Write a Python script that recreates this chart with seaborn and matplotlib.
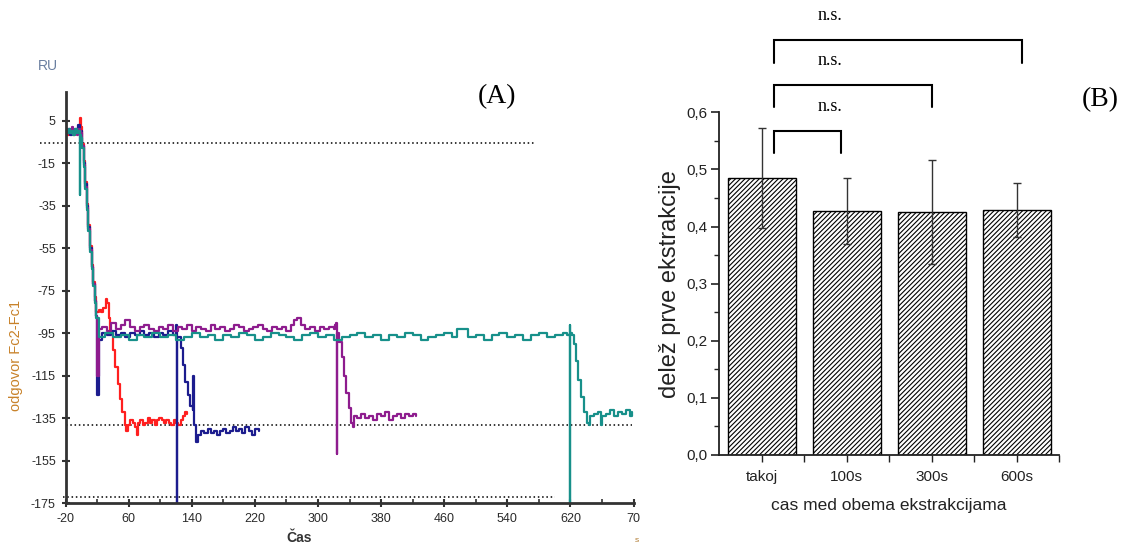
import numpy as np
import pandas as pd
import matplotlib
matplotlib.use("Agg")
import matplotlib.pyplot as plt
from matplotlib import font_manager
from matplotlib.ticker import FuncFormatter, FixedLocator
import seaborn as sns

# ---------------- Panel A data (sensorgram traces) ----------------
red_t = [-20, -18, -16, -14, -12, -10, -8, -6, -4, -2,
         -1, 0, 1, 3, 5, 7, 9, 11, 13, 15,
         17, 19, 22, 25, 28, 31, 33, 35, 37, 40,
         43, 46, 49, 52, 55, 57, 59, 62, 65, 68,
         70, 72, 75, 78, 81, 84, 87, 90, 93, 96,
         99, 102, 105, 108, 111, 114, 117, 120, 123, 126,
         129, 132, 134]
red_y = [0, -2, 0, -1, 1, -2, 0, -1, 1, -1,
         6, 2, -6, -14, -24, -34, -44, -54, -63, -71,
         -78, -85, -84, -85, -83, -79, -81, -88, -95, -103,
         -111, -119, -126, -132, -138, -141, -138, -136, -137, -139,
         -143, -137, -136, -138, -137, -135, -137, -136, -138, -136,
         -135, -136, -137, -136, -137, -138, -136, -137, -138, -136,
         -134, -132, -133]

navy_t = [-20, -18, -16, -14, -12, -10, -8, -6, -4, -2,
          0, 1, 3, 5, 7, 9, 11, 13, 15, 17,
          19, 20.5, 22, 26, 32, 38, 44, 50, 56, 62,
          68, 74, 80, 86, 92, 98, 104, 110, 116, 120,
          120.5, 121, 121.5, 123, 126, 129, 132, 135, 138, 141,
          142, 143, 145, 148, 152, 156, 160, 164, 168, 172,
          176, 180, 184, 188, 192, 196, 200, 204, 208, 212,
          216, 220, 225]
navy_y = [0, -1, 1, -2, 0, -1, 1, -1, 3, -1,
          0, -7, -15, -25, -35, -45, -55, -64, -72, -80,
          -87, -124, -98, -95, -96, -94, -96, -95, -97, -95,
          -96, -94, -96, -95, -97, -95, -96, -94, -96, -95,
          -91, -175, -97, -97, -102, -110, -118, -124, -129, -131,
          -115, -138, -146, -143, -141, -142, -140, -142, -141, -143,
          -141, -140, -142, -141, -139, -141, -140, -142, -139, -141,
          -143, -140, -141]

purple_t = [-20, -18, -16, -14, -12, -10, -8, -6, -4, -2,
            0, 1, 3, 5, 7, 9, 11, 13, 15, 17,
            19, 20.5, 22, 26, 32, 38, 44, 50, 56, 62,
            68, 74, 80, 86, 92, 98, 104, 110, 116, 122,
            128, 134, 140, 146, 152, 158, 164, 170, 176, 182,
            188, 194, 200, 206, 212, 218, 224, 230, 236, 242,
            248, 254, 260, 266, 270, 274, 278, 284, 290, 296,
            302, 308, 314, 320, 322, 323, 323.5, 324, 327, 330,
            333, 336, 339, 342, 344, 346, 350, 355, 360, 365,
            370, 375, 380, 385, 390, 395, 400, 405, 410, 415,
            420, 424]
purple_y = [-1, 1, -1, 0, 2, -1, 0, -2, 1, 0,
            -1, -7, -16, -26, -36, -46, -56, -64, -72, -80,
            -87, -115, -93, -92, -94, -90, -93, -91, -89, -92,
            -94, -92, -91, -93, -94, -92, -93, -91, -94, -92,
            -93, -91, -94, -92, -93, -94, -91, -93, -92, -94,
            -93, -91, -92, -94, -93, -92, -91, -93, -94, -92,
            -93, -92, -94, -91, -89, -88, -91, -93, -92, -94,
            -92, -93, -92, -93, -91, -90, -152, -95, -99, -106,
            -115, -123, -130, -137, -139, -134, -135, -133, -135, -134,
            -136, -133, -134, -132, -136, -134, -133, -135, -133, -134,
            -133, -134]

teal_t = [-20, -18, -16, -14, -12, -10, -8, -6, -4, -2,
          -1.5, -1, 0, 1, 3, 5, 7, 9, 11, 13,
          15, 17, 19,
          22, 30, 40, 50, 60, 70, 80, 90, 100, 110,
          120, 130, 140, 150, 160, 170, 180, 190, 200, 210,
          220, 230, 240, 250, 260, 270, 280, 290, 300, 310,
          320, 330, 340, 350, 360, 370, 380, 390, 400, 410,
          420, 430, 440, 450, 460, 470, 476, 483, 490, 500,
          510, 520, 530, 540, 550, 560, 570, 580, 590, 600,
          610, 616,
          619, 619.5, 620, 622, 624, 627, 630, 633, 637, 641,
          643, 645, 650, 655, 659, 660, 665, 670, 675, 680,
          685, 690, 695, 698]
teal_y = [0, -1, 1, -1, 0, -2, 1, -1, 0, -1,
          -30, -2, -3, -8, -17, -27, -37, -47, -57, -65,
          -73, -81, -88,
          -97, -95, -97, -96, -98, -96, -97, -95, -97, -96,
          -98, -97, -95, -97, -96, -98, -96, -97, -95, -96,
          -98, -97, -95, -96, -97, -98, -96, -95, -97, -96,
          -98, -97, -96, -95, -97, -96, -98, -96, -97, -95,
          -96, -98, -97, -96, -95, -97, -93, -93, -97, -96,
          -98, -96, -95, -97, -96, -98, -96, -95, -97, -96,
          -95, -96,
          -91, -175, -95, -96, -100, -108, -117, -125, -132, -137,
          -138, -134, -133, -132, -138, -134, -133, -131, -134, -132,
          -133, -131, -134, -132]

trace_names = ["red", "navy", "purple", "teal"]
trace_colors = ["#ff1f1f", "#1c1c8e", "#8e1c8e", "#17908a"]

# dotted reference lines in panel A
ref_y = [-5.5, -138, -172]
ref_x0 = [-52, -20, -23]
ref_x1 = [575, 698, 600]

xtick_vals = [-20, 60, 140, 220, 300, 380, 460, 540, 620, 700]
xtick_labels = ["-20", "60", "140", "220", "300", "380", "460", "540", "620", "70"]
xminor_vals = [20, 100, 180, 260, 340, 420, 500, 580, 660]
ytick_vals = [5, -15, -35, -55, -75, -95, -115, -135, -155, -175]

# ---------------- Panel B data (bar chart) ----------------
categories = ["takoj", "100s", "300s", "600s"]
means = [0.485, 0.427, 0.425, 0.429]
errs = [0.088, 0.058, 0.091, 0.048]

bracket_x0 = [0.15, 0.15, 0.15]
bracket_x1 = [0.93, 2.01, 3.07]
bracket_top = [0.568, 0.648, 0.726]
bracket_labels = ["n.s.", "n.s.", "n.s."]

# ---------------- style ----------------
sns.set_theme(style="white")
names = {f.name for f in font_manager.fontManager.ttflist}
narrow = "Liberation Sans Narrow" if "Liberation Sans Narrow" in names else None
plt.rcParams["font.family"] = ["Liberation Sans", "DejaVu Sans"]
plt.rcParams["hatch.linewidth"] = 0.8

W, H = 1129, 548
fig = plt.figure(figsize=(W / 100, H / 100), dpi=100)
fig.patch.set_facecolor("white")

def fx(px):
    return px / W

def fy(py):
    return 1 - py / H

# ---------------- Panel A ----------------
axA = fig.add_axes([fx(65.5), fy(503.3), (633.6 - 65.5) / W, (503.3 - 91.7) / H])
frames = []
for name, t, y in zip(trace_names, [red_t, navy_t, purple_t, teal_t],
                      [red_y, navy_y, purple_y, teal_y]):
    frames.append(pd.DataFrame({"t": t, "y": y, "trace": name}))
df = pd.concat(frames, ignore_index=True)
sns.lineplot(data=df, x="t", y="y", hue="trace", hue_order=trace_names,
             palette=dict(zip(trace_names, trace_colors)), estimator=None,
             sort=False, legend=False, linewidth=1.6, drawstyle="steps-post",
             ax=axA)

for yv, x0, x1 in zip(ref_y, ref_x0, ref_x1):
    axA.plot([x0, x1], [yv, yv], color="black", linestyle=(0, (1, 1.8)),
             linewidth=1.1, clip_on=False, zorder=1)

axA.set_xlim(-20, 700)
axA.set_ylim(-175, 18.6)
axA.set_facecolor("white")
for s in ["top", "right"]:
    axA.spines[s].set_visible(False)
for s in ["left", "bottom"]:
    axA.spines[s].set_color("#333333")
    axA.spines[s].set_linewidth(2.0)
axA.xaxis.set_major_locator(FixedLocator(xtick_vals))
axA.set_xticklabels(xtick_labels)
axA.xaxis.set_minor_locator(FixedLocator(xminor_vals))
axA.yaxis.set_major_locator(FixedLocator(ytick_vals))
axA.set_yticklabels([str(v) for v in ytick_vals])
axA.tick_params(axis="both", which="major", direction="inout", length=6, width=1.5,
                color="#333333", labelsize=9, labelcolor="#2a2a2a", pad=4,
                bottom=True, left=True)
axA.tick_params(axis="x", which="minor", direction="in", length=3, width=1.2,
                color="#333333", bottom=True)
axA.set_xlabel("")
axA.set_ylabel("")
fig.text(fx(299), fy(538), "Čas", ha="center", va="center", fontsize=10,
         color="#333333", fontweight="bold")
fig.text(fx(637), fy(541), "s", ha="center", va="center", fontsize=6,
         color="#b07a30")
fig.text(fx(48), fy(66), "RU", ha="center", va="center", fontsize=10,
         color="#6a7fa0")
fig.text(fx(16), fy(355), "odgovor Fc2-Fc1", ha="center", va="center",
         rotation=90, fontsize=10.5, color="#c8822a")
fig.text(fx(497), fy(97), "(A)", ha="center", va="center", fontsize=20,
         family="Liberation Serif", color="black")

# ---------------- Panel B ----------------
axB = fig.add_axes([fx(719), fy(455), 340 / W, (455 - 112.3) / H])
sns.barplot(x=categories, y=means, ax=axB, color="white", edgecolor="black",
            linewidth=1.0, hatch="///////", width=0.8, errorbar=None, saturation=1)
axB.errorbar(x=np.arange(len(categories)), y=means, yerr=errs, fmt="none",
             ecolor="#333333", elinewidth=1.0, capsize=3, capthick=1.0, zorder=5)
axB.set_xlim(-0.5, 3.5)
axB.set_ylim(0, 0.6)
axB.set_facecolor("white")
for s in ["top", "right"]:
    axB.spines[s].set_visible(False)
for s in ["left", "bottom"]:
    axB.spines[s].set_color("#222222")
    axB.spines[s].set_linewidth(1.3)
axB.yaxis.set_major_locator(FixedLocator([0.0, 0.1, 0.2, 0.3, 0.4, 0.5, 0.6]))
axB.yaxis.set_minor_locator(FixedLocator([0.05, 0.15, 0.25, 0.35, 0.45, 0.55]))
axB.yaxis.set_major_formatter(FuncFormatter(lambda v, _: f"{v:.1f}".replace(".", ",")))
axB.xaxis.set_minor_locator(FixedLocator([0.5, 1.5, 2.5, 3.5]))
tick_family = [narrow, "Liberation Sans"] if narrow else ["Liberation Sans"]
tick_size = 13 if narrow else 11
axB.tick_params(axis="y", which="major", direction="out", length=6, width=1.2,
                color="#222222", labelsize=tick_size, labelcolor="#222222", left=True, pad=2)
axB.tick_params(axis="y", which="minor", direction="out", length=3.5, width=1.0,
                color="#222222", left=True)
axB.tick_params(axis="x", which="both", direction="out", length=5, width=1.0,
                color="#222222", labelsize=tick_size, labelcolor="#222222", bottom=True, pad=6)
for lab in axB.get_xticklabels() + axB.get_yticklabels():
    lab.set_family(tick_family)
axB.set_xlabel("cas med obema ekstrakcijama", fontsize=(15 if narrow else 12.5),
               family=tick_family, color="#222222", labelpad=10)
axB.set_ylabel("delež prve ekstrakcije", fontsize=17, color="#222222", labelpad=4)

for x0, x1, top, lab in zip(bracket_x0, bracket_x1, bracket_top, bracket_labels):
    axB.plot([x0, x0, x1, x1], [top - 0.039, top, top, top - 0.039], color="black",
             linewidth=1.5, clip_on=False, solid_joinstyle="miter")
    axB.text(0.8, top + 0.043, lab, ha="center", va="center", fontsize=13,
             family="Liberation Serif", color="black", clip_on=False)

fig.text(fx(1100), fy(100), "(B)", ha="center", va="center", fontsize=20,
         family="Liberation Serif", color="black")

fig.savefig("out.png", dpi=100, facecolor="white")
